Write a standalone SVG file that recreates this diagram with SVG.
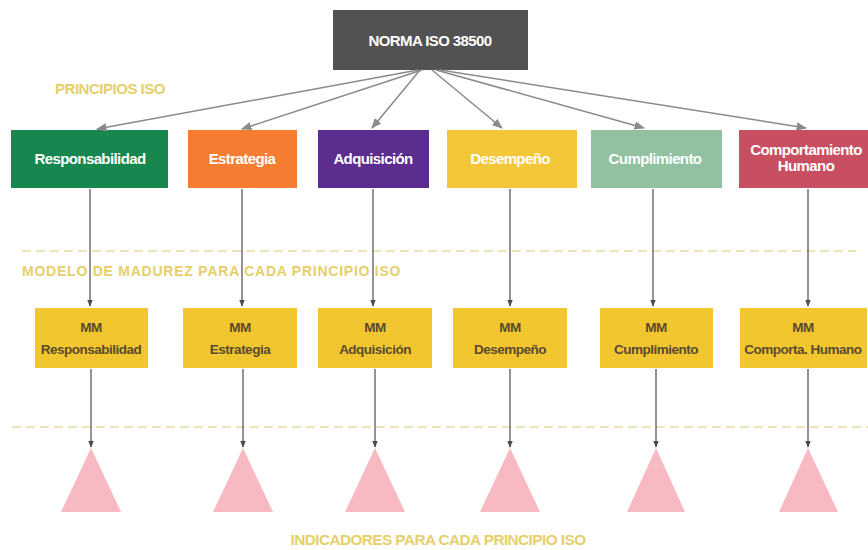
<svg xmlns="http://www.w3.org/2000/svg" width="868" height="550" viewBox="0 0 868 550">
<defs>
<marker id="ah" viewBox="0 0 10 10" refX="9" refY="5" markerWidth="7" markerHeight="7" orient="auto-start-reverse"><path d="M0,1 L10,5 L0,9 z" fill="#8a8a8a"/></marker>
<marker id="ahd" viewBox="0 0 10 10" refX="9" refY="5" markerWidth="6" markerHeight="6" orient="auto"><path d="M0,1 L10,5 L0,9 z" fill="#4a4a52"/></marker>
<style>
text{font-family:"Liberation Sans",Arial,sans-serif;font-weight:bold;text-anchor:middle}
.w{fill:#fff;font-size:15px;letter-spacing:-0.6px}
.mm{fill:#5a4a30;font-size:13.5px;letter-spacing:-0.5px}
.lbl{fill:#e6cf6a;font-size:14px;letter-spacing:-0.5px}
.ca{stroke:#8a8a8a;stroke-width:1.5;fill:none;marker-end:url(#ah)}
.cd{stroke:#4a4a52;stroke-width:1.2;fill:none;marker-end:url(#ahd)}
.dash{stroke:#efe4b8;stroke-width:2;stroke-dasharray:9,5}
.mmb{fill:#f2c62e}
.tri{fill:#f7b9c2}
</style>
</defs>
<rect width="868" height="550" fill="#fff"/>
<line class="dash" x1="22" y1="251" x2="856" y2="251"/>
<line class="dash" x1="12" y1="427" x2="868" y2="427"/>
<text class="lbl" x="110" y="94" textLength="110" lengthAdjust="spacingAndGlyphs">PRINCIPIOS ISO</text>
<text class="lbl" x="211" y="276" textLength="378" lengthAdjust="spacing">MODELO DE MADUREZ PARA CADA PRINCIPIO ISO</text>
<text class="lbl" x="438" y="545" textLength="295" lengthAdjust="spacingAndGlyphs">INDICADORES PARA CADA PRINCIPIO ISO</text>
<g id="root"><rect x="333" y="10" width="195" height="60" fill="#525252"/><text class="w" x="430" y="46">NORMA ISO 38500</text></g>
<g id="p1"><rect x="11" y="130" width="157" height="58" fill="#17864f"/><text class="w" x="90" y="164">Responsabilidad</text></g>
<g id="p2"><rect x="188" y="130" width="109" height="58" fill="#f47d32"/><text class="w" x="242" y="164">Estrategia</text></g>
<g id="p3"><rect x="318" y="130" width="111" height="58" fill="#5b2d8e"/><text class="w" x="373" y="164">Adquisición</text></g>
<g id="p4"><rect x="447" y="130" width="130" height="58" fill="#f2c73a"/><text class="w" x="510" y="164">Desempeño</text></g>
<g id="p5"><rect x="591" y="130" width="131" height="58" fill="#92c1a2"/><text class="w" x="655" y="164">Cumplimiento</text></g>
<g id="p6"><rect x="739" y="130" width="129" height="58" fill="#c84f62"/><text class="w" x="806" y="155">Comportamiento</text><text class="w" x="806" y="171">Humano</text></g>
<g id="m1"><rect class="mmb" x="35" y="308" width="113" height="60"/><text class="mm" x="91" y="332">MM</text><text class="mm" x="91" y="354">Responsabilidad</text></g>
<g id="m2"><rect class="mmb" x="183" y="308" width="114" height="60"/><text class="mm" x="240" y="332">MM</text><text class="mm" x="240" y="354">Estrategia</text></g>
<g id="m3"><rect class="mmb" x="318" y="308" width="114" height="60"/><text class="mm" x="375" y="332">MM</text><text class="mm" x="375" y="354">Adquisición</text></g>
<g id="m4"><rect class="mmb" x="453" y="308" width="114" height="60"/><text class="mm" x="510" y="332">MM</text><text class="mm" x="510" y="354">Desempeño</text></g>
<g id="m5"><rect class="mmb" x="600" y="308" width="113" height="60"/><text class="mm" x="656" y="332">MM</text><text class="mm" x="656" y="354">Cumplimiento</text></g>
<g id="m6"><rect class="mmb" x="740" y="308" width="127" height="60"/><text class="mm" x="803" y="332">MM</text><text class="mm" x="803" y="354">Comporta. Humano</text></g>
<g id="t1"><polygon class="tri" points="91,448 61,512 121,512"/></g>
<g id="t2"><polygon class="tri" points="243,448 213,512 273,512"/></g>
<g id="t3"><polygon class="tri" points="375,448 345,512 405,512"/></g>
<g id="t4"><polygon class="tri" points="510,448 480,512 540,512"/></g>
<g id="t5"><polygon class="tri" points="656,448 627,512 685,512"/></g>
<g id="t6"><polygon class="tri" points="808,448 779,512 838,512"/></g>
<g id="connectors">
<line class="ca" x1="418" y1="70" x2="97" y2="129"/>
<line class="ca" x1="422" y1="70" x2="242" y2="129"/>
<line class="ca" x1="420" y1="70" x2="372" y2="128"/>
<line class="ca" x1="432" y1="70" x2="502" y2="128"/>
<line class="ca" x1="436" y1="70" x2="644" y2="128"/>
<line class="ca" x1="440" y1="70" x2="806" y2="128"/>
<line class="cd" x1="90" y1="189" x2="90" y2="306"/>
<line class="cd" x1="242" y1="189" x2="242" y2="306"/>
<line class="cd" x1="373" y1="189" x2="373" y2="306"/>
<line class="cd" x1="510" y1="189" x2="510" y2="306"/>
<line class="cd" x1="653" y1="189" x2="653" y2="306"/>
<line class="cd" x1="808" y1="189" x2="808" y2="306"/>
<line class="cd" x1="91" y1="369" x2="91" y2="447"/>
<line class="cd" x1="243" y1="369" x2="243" y2="447"/>
<line class="cd" x1="375" y1="369" x2="375" y2="447"/>
<line class="cd" x1="510" y1="369" x2="510" y2="447"/>
<line class="cd" x1="656" y1="369" x2="656" y2="447"/>
<line class="cd" x1="808" y1="369" x2="808" y2="447"/>
</g>
</svg>
